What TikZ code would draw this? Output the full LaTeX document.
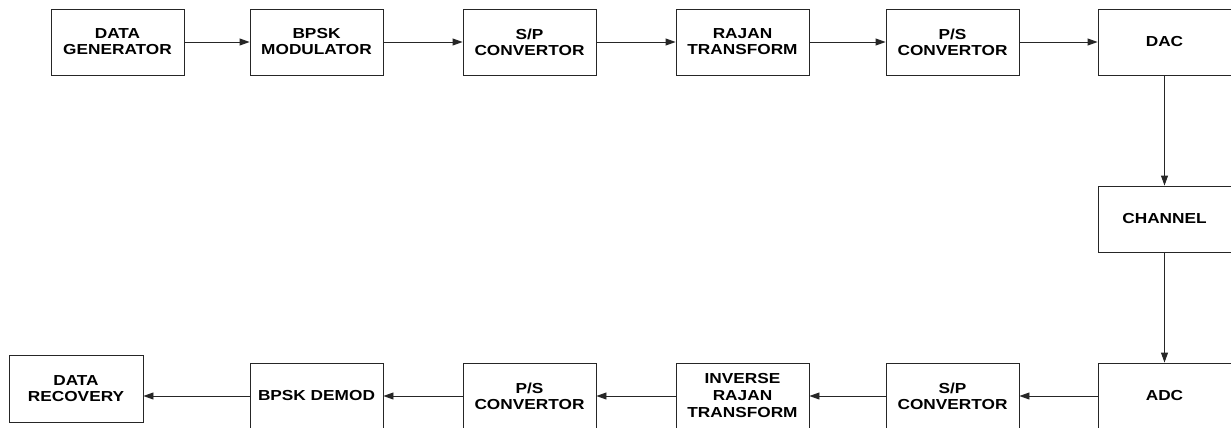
\documentclass[tikz,border=0pt]{standalone}
\usepackage{fontspec}
\setmainfont{Liberation Sans}
\newfontfamily\blkfont[FakeStretch=1.19]{Liberation Sans}
\usetikzlibrary{arrows.meta}
\begin{document}
\begin{tikzpicture}[x=1pt,y=-1pt,
  blk/.style={draw=black!85,line width=0.9pt,fill=white,minimum width=133pt,minimum height=66pt,
    inner sep=0pt,align=center,font=\blkfont\fontsize{14.5}{16}\selectfont\bfseries},
  flow/.style={draw=black!85,line width=0.9pt,-{Triangle[length=10pt,width=7pt]}}]
\useasboundingbox (0,0) rectangle (1231,428);
% transmitter chain
\node[blk] (dg) at (117.5,42) {DATA\\GENERATOR};
\node[blk] (bm) at (316.5,42) {BPSK\\MODULATOR};
\node[blk] (sp1) at (529.5,42) {S/P\\CONVERTOR};
\node[blk] (rt) at (742.5,42) {RAJAN\\TRANSFORM};
\node[blk] (ps1) at (952.5,42) {P/S\\CONVERTOR};
\node[blk] (dac) at (1164.5,42) {DAC};
% channel
\node[blk] (ch) at (1164.5,219) {CHANNEL};
% receiver chain
\node[blk] (adc) at (1164.5,396) {ADC};
\node[blk] (sp2) at (952.5,396) {S/P\\CONVERTOR};
\node[blk,font=\blkfont\fontsize{14.5}{17}\selectfont\bfseries] (irt) at (742.5,396) {INVERSE\\RAJAN\\TRANSFORM};
\node[blk] (ps2) at (529.5,396) {P/S\\CONVERTOR};
\node[blk] (bd) at (316.5,396) {BPSK DEMOD};
\node[blk,minimum width=134pt,minimum height=67pt] (dr) at (76,388.5) {DATA\\RECOVERY};
% connectors
\draw[flow] (dg) -- (bm);
\draw[flow] (bm) -- (sp1);
\draw[flow] (sp1) -- (rt);
\draw[flow] (rt) -- (ps1);
\draw[flow] (ps1) -- (dac);
\draw[flow] (dac) -- (ch);
\draw[flow] (ch) -- (adc);
\draw[flow] (adc) -- (sp2);
\draw[flow] (sp2) -- (irt);
\draw[flow] (irt) -- (ps2);
\draw[flow] (ps2) -- (bd);
\draw[flow] (bd.west) -- (dr.east |- bd.west);
\end{tikzpicture}
\end{document}
